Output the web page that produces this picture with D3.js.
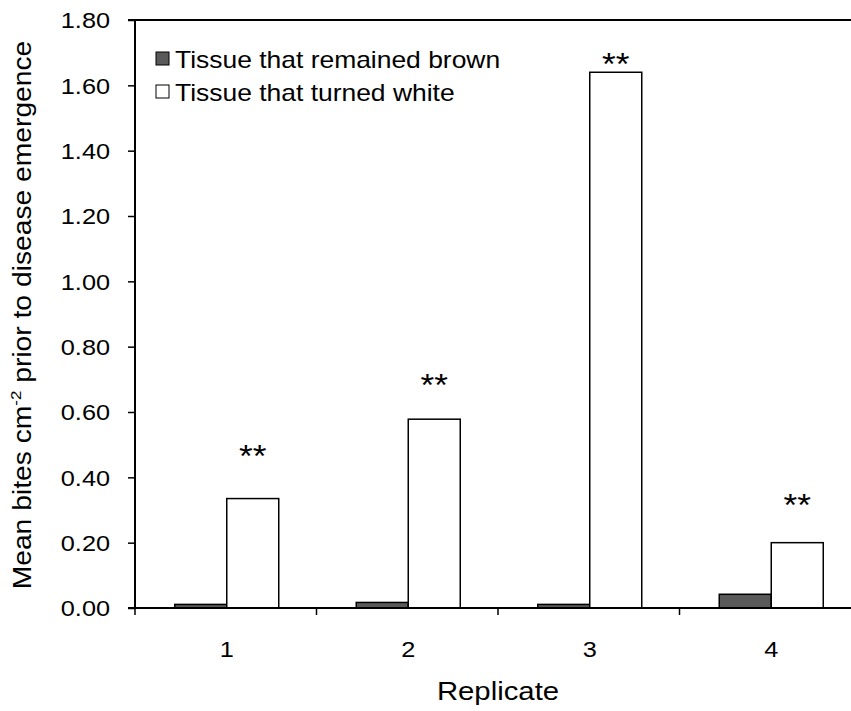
<!DOCTYPE html>
<html><head><meta charset="utf-8">
<script src="https://cdn.jsdelivr.net/npm/d3@7"></script>
<style>body{margin:0;background:#fff}svg{display:block}text{font-family:"Liberation Sans",Arial,sans-serif;fill:#000}</style>
</head><body><svg id="c" width="851" height="711"></svg>
<script>
const categories = ["1","2","3","4"];
const seriesNames = ["Tissue that remained brown","Tissue that turned white"];
const brownValues = [0.011, 0.017, 0.011, 0.042];
const whiteValues = [0.335, 0.578, 1.640, 0.200];
const starValues = [0.487, 0.704, 1.687, 0.337];
const starLabels = ["**","**","**","**"];
const yTicks = [0,0.2,0.4,0.6,0.8,1.0,1.2,1.4,1.6,1.8];
const colors = ["#5a5a5a","#ffffff"];

const FS = 22, SX = 1.15;
const svg = d3.select("#c");
const x = d3.scaleBand().domain(categories).range([135, 861]).padding(0);
const y = d3.scaleLinear().domain([0, 1.8]).range([608, 20]);
const sub = d3.scaleBand().domain([0,1]).range([0, 104]);
const off = (x.bandwidth() - 104) / 2 + 1;

// bars
const series = [brownValues, whiteValues];
series.forEach((vals, si) => {
  svg.append("g").selectAll("rect").data(vals).join("rect")
    .attr("x", (d,i) => x(categories[i]) + off + sub(si))
    .attr("y", d => y(d))
    .attr("width", sub.bandwidth())
    .attr("height", d => y(0) - y(d))
    .attr("fill", colors[si])
    .attr("stroke", "#000").attr("stroke-width", 1.5);
});

// stars (value = visual centre of the asterisks)
const SFS = 32;
svg.append("g").selectAll("text").data(starValues).join("text")
  .attr("transform", (d,i) => `translate(${x(categories[i]) + off + sub(1) + sub.bandwidth()/2},${y(d) + 0.56*SFS}) scale(1.1,1)`)
  .attr("text-anchor", "middle")
  .attr("font-size", SFS)
  .text((d,i) => starLabels[i]);

// y axis
const yAxis = d3.axisLeft(y).tickValues(yTicks).tickFormat(d3.format(".2f")).tickSize(7).tickPadding(10);
const gy = svg.append("g").attr("transform", "translate(135,0)").call(yAxis);
gy.select(".domain").attr("stroke-width", 2).attr("d", "M0," + y(0) + "V" + y(1.8));
gy.selectAll(".tick line").attr("stroke-width", 1.5);
gy.selectAll(".tick text").attr("font-size", FS).attr("x", 0).attr("dy", null)
  .attr("transform", `translate(-25,${0.36*FS}) scale(${SX},1)`)
  .style("font-family", "'Liberation Sans',Arial,sans-serif");

// top border
svg.append("line").attr("x1", 128).attr("x2", 861).attr("y1", y(1.8)).attr("y2", y(1.8))
  .attr("stroke", "#000").attr("stroke-width", 2);

// x axis
const gx = svg.append("g");
gx.append("line").attr("x1", 128).attr("x2", 861).attr("y1", y(0)).attr("y2", y(0))
  .attr("stroke", "#000").attr("stroke-width", 2);
const bounds = categories.map(c => x(c)).concat([x(categories[categories.length-1]) + x.bandwidth()]);
gx.selectAll("line.t").data(bounds).join("line").attr("class","t")
  .attr("x1", d => d).attr("x2", d => d).attr("y1", y(0)).attr("y2", y(0) + 7)
  .attr("stroke", "#000").attr("stroke-width", 1.5);
gx.selectAll("text").data(categories).join("text")
  .attr("transform", d => `translate(${x(d) + x.bandwidth()/2 + 1},657) scale(${SX},1)`)
  .attr("text-anchor", "middle").attr("font-size", FS).text(d => d);

// axis titles
svg.append("text").attr("transform", `translate(498,700) scale(${SX},1)`).attr("text-anchor", "middle")
  .attr("font-size", 25.5).text("Replicate");
const yt = svg.append("text").attr("transform", "translate(31,315) rotate(-90) scale(1.13,1)")
  .attr("text-anchor", "middle").attr("font-size", 25);
yt.append("tspan").text("Mean bites cm");
yt.append("tspan").attr("font-size", 15).attr("dy", -10).text("-2");
yt.append("tspan").attr("dy", 10).text(" prior to disease emergence");

// legend
const lg = svg.append("g");
seriesNames.forEach((n, i) => {
  const base = 68 + i * 33;
  lg.append("rect").attr("x", 156).attr("y", base - 16).attr("width", 13).attr("height", 13)
    .attr("fill", colors[i]).attr("stroke", "#000").attr("stroke-width", 1);
  lg.append("text").attr("transform", `translate(175,${base}) scale(${SX},1)`)
    .attr("font-size", 23).text(n);
});
</script></body></html>
